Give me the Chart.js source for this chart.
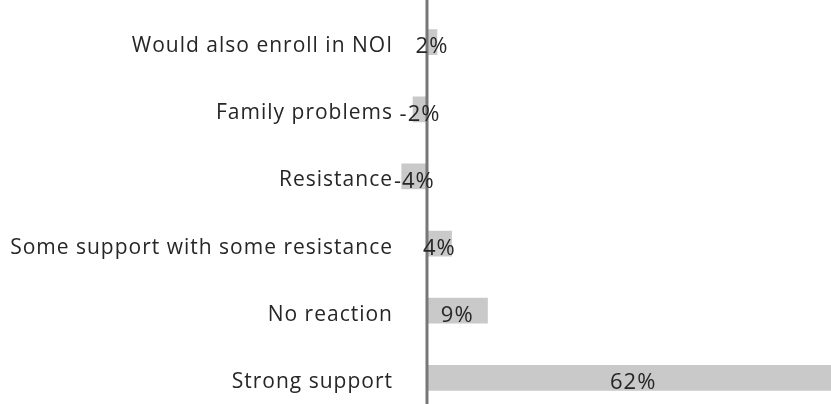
<!DOCTYPE html>
<html>
<head>
<meta charset="utf-8">
<script src="https://cdn.jsdelivr.net/npm/chart.js@4"></script>
<style>
  html, body { margin: 0; padding: 0; background: #fff; overflow: hidden; }
  #wrap { width: 831px; height: 432px; position: relative; margin-top: -6px; }
</style>
</head>
<body>
<div id="wrap"><canvas id="reactionChart"></canvas></div>
<script>
const categories = [
    'Would also enroll in NOI',
    'Family problems',
    'Resistance',
    'Some support with some resistance',
    'No reaction',
    'Strong support'
];
const values = [1.5, -2.1, -3.8, 3.7, 9.1, 62];

const FONT = '"Open Sans", "DejaVu Sans", sans-serif';

// the original text is a bit more spread out
const spacing = {
    id: 'spacing',
    beforeDraw(chart) {
        chart.ctx.letterSpacing = '1px';
    }
};

// zero line across the whole height, like the original
const zeroLine = {
    id: 'zeroLine',
    afterDatasetsDraw(chart) {
        const ctx = chart.ctx;
        const x = chart.scales.x.getPixelForValue(0);
        ctx.save();
        ctx.strokeStyle = '#777777';
        ctx.lineWidth = 3;
        ctx.beginPath();
        ctx.moveTo(x, 0);
        ctx.lineTo(x, chart.height);
        ctx.stroke();
        ctx.restore();
    }
};

// value labels centred on each bar
const barLabels = {
    id: 'barLabels',
    afterDraw(chart) {
        const ctx = chart.ctx;
        const xs = chart.scales.x;
        const meta = chart.getDatasetMeta(0);
        ctx.save();
        ctx.font = '22px ' + FONT;
        ctx.letterSpacing = '1px';
        ctx.fillStyle = '#262626';
        ctx.textAlign = 'center';
        ctx.textBaseline = 'middle';
        meta.data.forEach((bar, i) => {
            const v = values[i];
            const cx = xs.getPixelForValue(v / 2);
            ctx.fillText(Math.round(v) + '%', cx, bar.y + 5);
        });
        ctx.restore();
    }
};

new Chart(document.getElementById('reactionChart'), {
    type: 'bar',
    data: {
        labels: categories,
        datasets: [{
            data: values,
            backgroundColor: '#c9c9c9',
            borderWidth: 0,
            barThickness: 25
        }]
    },
    options: {
        indexAxis: 'y',
        responsive: true,
        maintainAspectRatio: false,
        animation: false,
        layout: { padding: 0 },
        plugins: {
            legend: { display: false },
            tooltip: { enabled: false }
        },
        scales: {
            x: {
                display: false,
                min: -4.81,
                max: 60.75
            },
            y: {
                afterFit(scale) { scale.width = 395; },
                grid: { display: false, drawTicks: false },
                border: { display: false },
                ticks: {
                    padding: 2,
                    labelOffset: 4,
                    color: '#262626',
                    font: { family: FONT, size: 21 }
                }
            }
        }
    },
    plugins: [spacing, zeroLine, barLabels]
});
</script>
</body>
</html>
